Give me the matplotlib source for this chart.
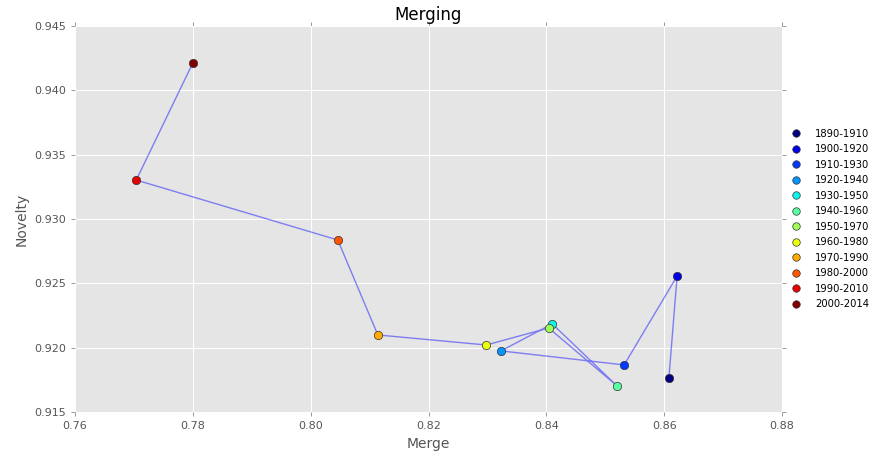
import matplotlib
matplotlib.use("Agg")
import matplotlib.pyplot as plt
import numpy as np

# Merge / novelty scores per 20-year window
periods = ["1890-1910", "1900-1920", "1910-1930", "1920-1940", "1930-1950", "1940-1960",
           "1950-1970", "1960-1980", "1970-1990", "1980-2000", "1990-2010", "2000-2014"]
merge = [0.8608, 0.8622, 0.8532, 0.8323, 0.8410, 0.8520,
         0.8404, 0.8298, 0.8114, 0.8046, 0.7704, 0.7800]
novelty = [0.91765, 0.92557, 0.91866, 0.91975, 0.92185, 0.91703,
           0.92153, 0.92021, 0.92099, 0.92837, 0.93303, 0.94213]

plt.style.use("ggplot")
plt.rcParams["font.family"] = "DejaVu Sans"

fig = plt.figure(figsize=(8.72, 4.58), dpi=100)
ax = fig.add_axes([0.086, 0.1004, 0.8108, 0.8428])
ax.set_facecolor("#e5e5e5")
for s in ax.spines.values():
    s.set_visible(False)
ax.grid(True, color="white", linewidth=0.8)
ax.set_axisbelow(True)

ax.plot(merge, novelty, color="blue", alpha=0.45, linewidth=1, zorder=2)
colors = plt.cm.jet(np.linspace(0, 1, len(periods)))
for m, n, c, p in zip(merge, novelty, colors, periods):
    ax.plot(m, n, "o", color=c, markersize=6, markeredgecolor="#333333",
            markeredgewidth=0.5, label=p, zorder=3)

ax.set_xlim(0.76, 0.88)
ax.set_ylim(0.915, 0.945)
ax.set_xticks(np.arange(0.76, 0.8801, 0.02))
ax.set_yticks(np.arange(0.915, 0.9451, 0.005))
ax.set_xticklabels([f"{v:.2f}" for v in np.arange(0.76, 0.8801, 0.02)])
ax.set_yticklabels([f"{v:.3f}" for v in np.arange(0.915, 0.9451, 0.005)])
ax.tick_params(direction="out", length=3, width=0.6, color="#888888",
               labelcolor="#555555", labelsize=8, top=True, right=True)

ax.set_xlabel("Merge", fontsize=10, color="#555555")
ax.set_ylabel("Novelty", fontsize=10, color="#555555")
ax.set_title("Merging", fontsize=12, color="black", pad=4)

leg = ax.legend(loc="center left", bbox_to_anchor=(1.0, 0.5), frameon=False,
                fontsize=7.2, numpoints=1, handlelength=1.0, handletextpad=1.4,
                labelspacing=0.55, borderaxespad=0.5, markerscale=0.9)

fig.savefig("out.png", dpi=100)
